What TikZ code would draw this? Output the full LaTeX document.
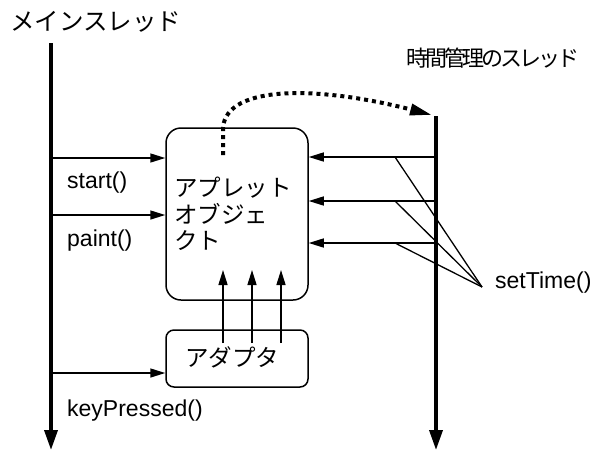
\documentclass[tikz,border=0pt]{standalone}
\usepackage{fontspec}
\setmainfont{Liberation Sans}
\newfontfamily\jp{Noto Sans CJK JP}
\newfontfamily\jpnarrow[LetterSpace=-14]{Noto Sans CJK JP}
\usetikzlibrary{arrows.meta}
\tikzset{
  thread/.style={line width=3.5pt,-{Triangle[length=20pt,width=13pt]}},
  msg/.style={line width=1.5pt,-{Triangle[length=15pt,width=9pt]}},
  thin/.style={line width=1.3pt},
  box/.style={draw,line width=1.5pt,minimum width=142pt,inner sep=0pt},
  lbl/.style={font=\fontsize{23}{26}\selectfont,inner sep=0pt,anchor=west},
  jlbl/.style={font=\jp\fontsize{23.5}{26.5}\selectfont,inner sep=0pt},
  callpath/.style={line width=4pt,dash pattern=on 4pt off 4pt,-{Triangle[length=22pt,width=11pt]}}
}
\begin{document}
\begin{tikzpicture}[x=1pt,y=-1pt]
\useasboundingbox (0,0) rectangle (601,451);
% thread titles
\node[jlbl,font=\jp\fontsize{24.5}{27}\selectfont,anchor=west] (mainlbl) at (10,22) {メインスレッド};
\node[font=\jpnarrow\fontsize{22}{25}\selectfont,inner sep=0pt,anchor=west] (timelbl) at (406,58) {時間管理のスレッド};
% threads
\coordinate (m0) at (51,43);
\coordinate (m1) at (51,450);
\coordinate (t0) at (436,116);
\coordinate (t1) at (436,450);
\draw[thread] (m0) -- (m1);
\draw[thread] (t0) -- (t1);
% boxes
\node[box,minimum height=172pt,rounded corners=15pt] (applet) at (237,214) {};
\node[box,minimum height=57pt,rounded corners=8pt] (adapter) at (237,358.5) {};
\node[jlbl,anchor=north west,align=left] (applettxt) at (174,177) {アプレット\\オブジェ\\クト};
\node[jlbl] (adaptertxt) at (232,357) {アダプタ};
% calls from main thread
\coordinate (ms) at (51,158);
\coordinate (mp) at (51,215);
\coordinate (mk) at (51,373);
\draw[msg] (ms) -- (ms -| applet.west);
\draw[msg] (mp) -- (mp -| applet.west);
\draw[msg] (mk) -- (mk -| adapter.west);
\node[lbl] (startlbl) at (67,183) {start()};
\node[lbl] (paintlbl) at (67,241) {paint()};
\node[lbl] (keylbl) at (67,411) {keyPressed()};
% adapter to applet
\foreach \x [count=\i] in {223,252,281}{
  \coordinate (a\i) at (\x,343);
  \draw[msg] (a\i) -- (a\i |- 0,270);
}
% calls from time thread
\node[lbl] (setlbl) at (495,283) {setTime()};
\coordinate (st) at (482,287);
\foreach \y [count=\i] in {157,201,243}{
  \coordinate (r\i) at (436,\y);
  \coordinate (k\i) at (395,\y);
  \draw[msg] (r\i) -- (r\i -| applet.east);
  \draw[thin] (k\i) -- (st);
}
% dotted creation curve
\coordinate (d0) at (223,155);
\coordinate (d1) at (223,128);
\coordinate (d2) at (432,115);
\draw[callpath] (d0) -- (d1) .. controls (226,84) and (320,86) .. (d2);
\end{tikzpicture}
\end{document}
